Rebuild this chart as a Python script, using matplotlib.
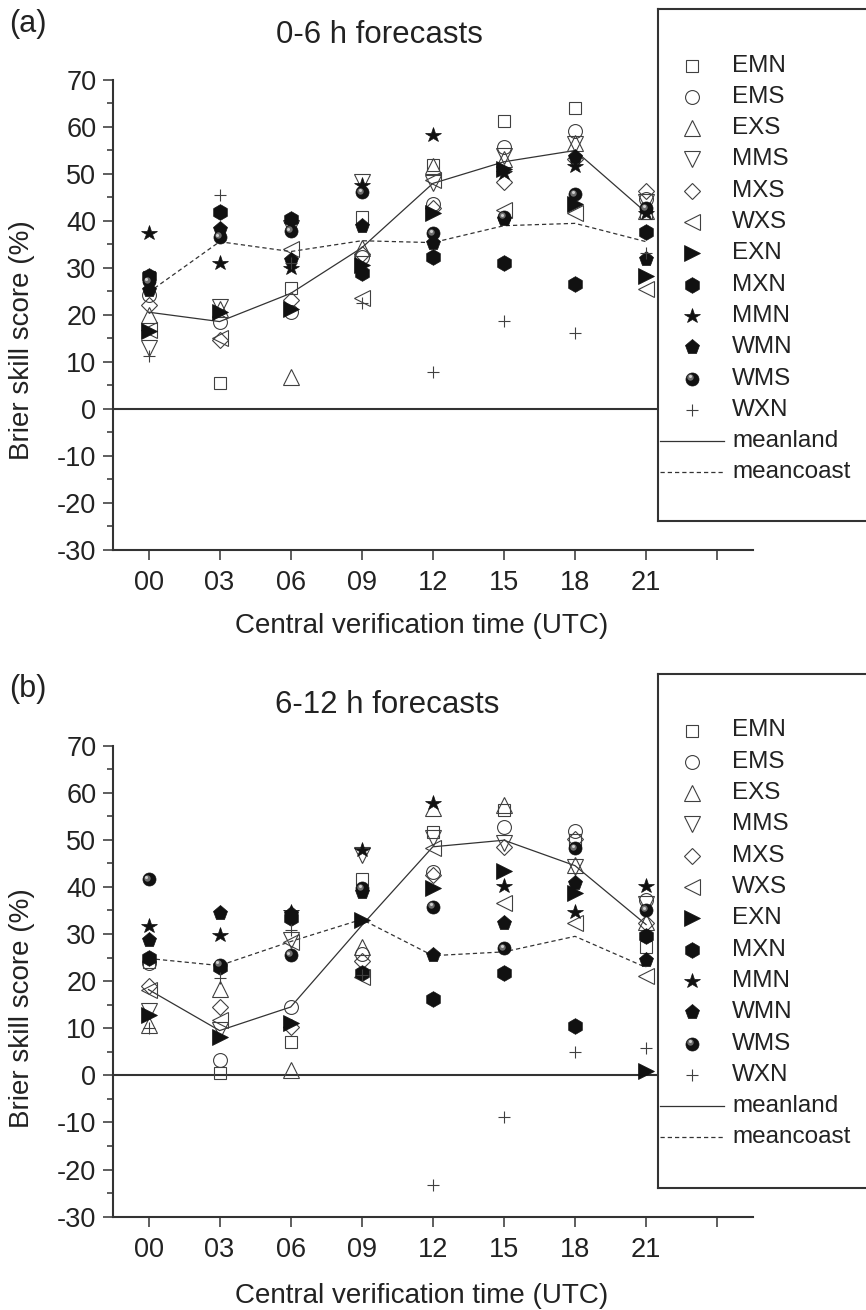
import matplotlib
matplotlib.use("Agg")
import matplotlib.pyplot as plt
from matplotlib.transforms import ScaledTranslation

HOURS = [0, 3, 6, 9, 12, 15, 18, 21]
XTICKS = [0, 3, 6, 9, 12, 15, 18, 21, 24]
XTICK_LABELS = ["00", "03", "06", "09", "12", "15", "18", "21", ""]
STATIONS = ["EMN", "EMS", "EXS", "MMS", "MXS", "WXS",
            "EXN", "MXN", "MMN", "WMN", "WMS", "WXN"]

# (a) 0-6 h forecasts, Brier skill score (%)
emn_a = [28.0, 5.6, 25.7, 40.9, 52.0, 61.3, 64.1, 41.8]
ems_a = [24.3, 18.6, 20.7, 32.4, 43.6, 55.8, 59.1, 44.6]
exs_a = [20.0, 21.2, 6.9, 34.2, 51.7, 53.2, 56.6, 42.2]
mms_a = [13.0, 21.8, 38.6, 48.3, 48.0, 53.8, 56.3, 44.0]
mxs_a = [22.1, 14.6, 23.2, 33.0, 42.8, 48.2, 53.2, 46.4]
wxs_a = [16.8, 15.2, 34.0, 23.6, 48.8, 42.3, 41.6, 25.5]
exn_a = [16.5, 20.7, 21.2, 30.6, 41.7, 51.1, 43.6, 28.2]
mxn_a = [28.3, 41.9, 40.4, 28.9, 32.4, 31.0, 26.7, 37.7]
mmn_a = [37.4, 31.1, 30.0, 47.6, 58.2, 50.3, 51.6, 41.6]
wmn_a = [25.3, 38.3, 31.7, 38.9, 35.3, 40.5, 53.7, 32.0]
wms_a = [27.2, 36.6, 37.9, 46.1, 37.4, 40.9, 45.7, 42.7]
wxn_a = [11.3, 45.5, 31.0, 22.5, 7.9, 18.8, 16.1, 33.2]
meanland_a = [20.6, 18.6, 24.6, 34.3, 48.0, 52.6, 55.0, 41.8]
meancoast_a = [24.8, 35.6, 33.5, 35.8, 35.4, 39.0, 39.5, 35.6]

# (b) 6-12 h forecasts
emn_b = [24.0, 0.6, 7.0, 41.6, 51.7, 56.3, 50.0, 27.3]
ems_b = [23.8, 3.2, 14.5, 25.8, 43.2, 52.7, 51.9, 37.2]
exs_b = [10.7, 18.3, 1.1, 27.2, 56.7, 57.4, 44.6, 32.5]
mms_b = [13.6, 9.7, 28.8, 46.8, 50.3, 49.3, 44.3, 36.4]
mxs_b = [19.0, 14.5, 10.3, 24.2, 42.5, 48.4, 50.1, 32.3]
wxs_b = [18.2, 11.7, 28.2, 20.8, 48.2, 36.5, 32.3, 21.0]
exn_b = [12.9, 8.1, 11.2, 33.0, 39.7, 43.4, 38.8, 0.9]
mxn_b = [24.9, 23.0, 33.3, 21.8, 16.2, 21.7, 10.5, 29.6]
mmn_b = [31.7, 29.8, 34.7, 47.8, 57.7, 40.2, 34.6, 40.2]
wmn_b = [28.8, 34.4, 34.2, 39.0, 25.6, 32.3, 40.8, 24.5]
wms_b = [41.6, 23.5, 25.6, 39.7, 35.8, 27.0, 48.2, 35.1]
wxn_b = [10.1, 20.6, 30.9, 21.3, -23.2, -8.8, 4.9, 5.8]
meanland_b = [18.2, 9.5, 14.5, 31.8, 48.5, 49.9, 44.5, 32.0]
meancoast_b = [24.8, 23.3, 28.4, 33.1, 25.4, 26.2, 29.5, 22.9]

PANEL_A = dict(zip(STATIONS, [emn_a, ems_a, exs_a, mms_a, mxs_a, wxs_a,
                              exn_a, mxn_a, mmn_a, wmn_a, wms_a, wxn_a]))
PANEL_B = dict(zip(STATIONS, [emn_b, ems_b, exs_b, mms_b, mxs_b, wxs_b,
                              exn_b, mxn_b, mmn_b, wmn_b, wms_b, wxn_b]))

OPEN = dict(mfc="none", mec="#404040", mew=0.8)
FILLED = dict(mfc="#111111", mec="#111111", mew=0.5)
STYLE = {
    "EMN": dict(marker="s", ms=8.4, **OPEN),
    "EMS": dict(marker="o", ms=10, **OPEN),
    "EXS": dict(marker="^", ms=11, **OPEN),
    "MMS": dict(marker="v", ms=11, **OPEN),
    "MXS": dict(marker="D", ms=8.4, **OPEN),
    "WXS": dict(marker="<", ms=11, **OPEN),
    "EXN": dict(marker=">", ms=11, **FILLED),
    "MXN": dict(marker="h", ms=11.3, **FILLED),
    "MMN": dict(marker="*", ms=11.5, **FILLED),
    "WMN": dict(marker="p", ms=11, **FILLED),
    "WMS": None,  # shaded ball, drawn separately
    "WXN": dict(marker="+", ms=9, mec="#404040", mew=0.8),
}

DARK = "#333333"

plt.rcParams.update({
    "font.family": ["Liberation Sans", "DejaVu Sans"],
    "font.size": 20,
    "axes.unicode_minus": False,
    "text.color": "#222222",
    "axes.edgecolor": DARK,
    "axes.linewidth": 1.5,
    "xtick.color": DARK,
    "ytick.color": DARK,
    "xtick.labelcolor": "#222222",
    "ytick.labelcolor": "#222222",
})

W, H = 866, 1310
fig = plt.figure(figsize=(W / 100, H / 100), dpi=100)


def sphere(ax, x, y, ms=9.4, z=3):
    ax.plot(x, y, ls="none", marker="o", ms=ms, mfc="#111111",
            mec="#111111", mew=0.5, zorder=z)
    for size, color, off in [(4.6, "#6e6e6e", 1.6), (2.2, "#cfcfcf", 2.2)]:
        tr = ax.transData + ScaledTranslation(-off / 100, off / 100, fig.dpi_scale_trans)
        ax.plot(x, y, ls="none", marker="o", ms=size, mfc=color, mec="none",
                transform=tr, zorder=z)


def fpos(x0, y_top, x1, y_bot):
    # pixel box -> figure fraction
    return [x0 / W, 1 - y_bot / H, (x1 - x0) / W, (y_bot - y_top) / H]


def draw_panel(data, land, coast, ax_box, leg_box, tag, title, title_xy, tag_y,
               ylab_y, xlab_y):
    ax = fig.add_axes(fpos(*ax_box))
    ax.axhline(0, color=DARK, lw=1.5, zorder=1)
    ax.plot(HOURS, land, color=DARK, lw=0.9, zorder=2)
    ax.plot(HOURS, coast, color=DARK, lw=0.9, ls=(0, (3.4, 2.4)), zorder=2)

    for name in STATIONS:
        if STYLE[name] is None:
            sphere(ax, HOURS, data[name])
        else:
            ax.plot(HOURS, data[name], ls="none", zorder=3, **STYLE[name])

    ax.set_xlim(-1.5, 25.5)
    ax.set_ylim(-30, 70)
    ax.set_xticks(XTICKS)
    ax.set_xticklabels(XTICK_LABELS)
    ax.set_yticks(range(-30, 71, 10))
    ax.set_yticks(range(-25, 70, 10), minor=True)
    ax.tick_params(axis="both", which="major", direction="out", length=7.5,
                   width=1.1, labelsize=19.5)
    ax.tick_params(axis="y", which="major", pad=4.5)
    ax.tick_params(axis="x", which="major", pad=7)
    ax.tick_params(axis="y", which="minor", direction="out", length=4.2, width=1.1)
    for s in ["top", "right"]:
        ax.spines[s].set_visible(False)

    fig.text(title_xy[0] / W, 1 - title_xy[1] / H, title, ha="center",
             va="baseline", fontsize=22.5)
    fig.text(9 / W, 1 - tag_y / H, tag, ha="left", va="center", fontsize=22)
    fig.text(22 / W, 1 - ylab_y / H, "Brier skill score (%)", rotation=90,
             ha="center", va="center", fontsize=20)
    fig.text(421.5 / W, 1 - xlab_y / H, "Central verification time (UTC)",
             ha="center", va="baseline", fontsize=20)

    # legend box, drawn over the plot area and running off the right edge
    lx0, ly0, lx1, ly1 = leg_box
    lg = fig.add_axes(fpos(lx0, ly0, lx1, ly1))
    lg.set_zorder(5)
    lg.set_facecolor("white")
    lg.set_xlim(0, lx1 - lx0)
    lg.set_ylim(ly1 - ly0, 0)
    lg.set_xticks([])
    lg.set_yticks([])
    for s in lg.spines.values():
        s.set_linewidth(1.5)
        s.set_color(DARK)

    y = 56.5
    step = 31.3
    for name in STATIONS:
        if STYLE[name] is None:
            sphere(lg, [34], [y])
        else:
            lg.plot([34], [y], ls="none", **STYLE[name])
        lg.text(74, y, name, va="center", ha="left", fontsize=17.5)
        y += step
    lg.plot([2, 66], [y, y], color=DARK, lw=0.9)
    lg.text(74, y, "meanland", va="center", ha="left", fontsize=17.5)
    y += step
    lg.plot([2, 66], [y, y], color=DARK, lw=0.9, ls=(0, (3.4, 2.4)))
    lg.text(74, y, "meancoast", va="center", ha="left", fontsize=17.5)
    return ax


draw_panel(PANEL_A, meanland_a, meancoast_a,
           ax_box=(113, 80, 752.7, 550), leg_box=(658, 9, 872, 521),
           tag="(a)", title="0-6 h forecasts", title_xy=(379, 42.7), tag_y=24,
           ylab_y=340, xlab_y=633)

draw_panel(PANEL_B, meanland_b, meancoast_b,
           ax_box=(113, 745.5, 752.7, 1216.7), leg_box=(658, 674, 872, 1188),
           tag="(b)", title="6-12 h forecasts", title_xy=(386.7, 713.3), tag_y=689,
           ylab_y=1008, xlab_y=1303)

fig.savefig("out.png", dpi=100)
